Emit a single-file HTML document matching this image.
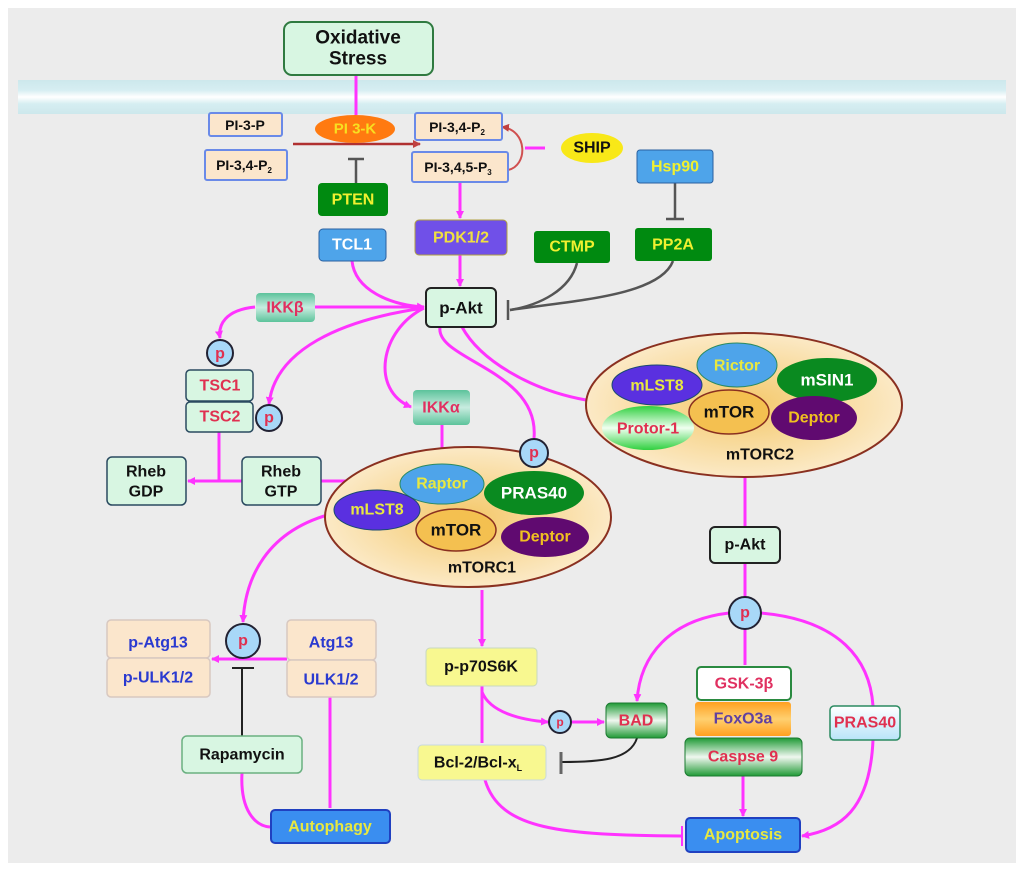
<!DOCTYPE html>
<html><head><meta charset="utf-8"><style>
html,body{margin:0;padding:0;background:#fff}
svg{display:block}
text{font-family:"Liberation Sans",Arial,sans-serif;font-weight:bold;text-anchor:middle;dominant-baseline:central}
</style></head><body>
<svg width="1024" height="872" viewBox="0 0 1024 872" xmlns="http://www.w3.org/2000/svg">
<defs>
<linearGradient id="mem" x1="0" y1="0" x2="0" y2="1">
<stop offset="0" stop-color="#cde8ec"/><stop offset="0.3" stop-color="#d6eef2"/><stop offset="0.5" stop-color="#ffffff"/><stop offset="0.7" stop-color="#d6eef2"/><stop offset="1" stop-color="#cde8ec"/></linearGradient>
<radialGradient id="cplx" cx="0.5" cy="0.5" r="0.6"><stop offset="0" stop-color="#f4c86a"/><stop offset="1" stop-color="#fdf0d8"/></radialGradient>
<linearGradient id="grn" x1="0" y1="0" x2="0" y2="1"><stop offset="0" stop-color="#1f9a35"/><stop offset="0.5" stop-color="#f0f7f0"/><stop offset="1" stop-color="#1f9a35"/></linearGradient>
<linearGradient id="teal" x1="0" y1="0" x2="0" y2="1"><stop offset="0" stop-color="#5cc39b"/><stop offset="0.5" stop-color="#c8ece0"/><stop offset="1" stop-color="#5cc39b"/></linearGradient>
<linearGradient id="org" x1="0" y1="0" x2="0" y2="1"><stop offset="0" stop-color="#ffa020"/><stop offset="0.5" stop-color="#ffd070"/><stop offset="1" stop-color="#ffa020"/></linearGradient>
<linearGradient id="prot" x1="0" y1="0" x2="0" y2="1"><stop offset="0" stop-color="#30d040"/><stop offset="0.5" stop-color="#f0fff0"/><stop offset="1" stop-color="#30d040"/></linearGradient>
<linearGradient id="cyan" x1="0" y1="0" x2="0" y2="1"><stop offset="0" stop-color="#ffffff"/><stop offset="1" stop-color="#b8e4f8"/></linearGradient>
<marker id="am" markerWidth="8" markerHeight="8" refX="7" refY="4" orient="auto" markerUnits="userSpaceOnUse"><path d="M0,0 L8,4 L0,8 z" fill="#ff33ff"/></marker>
<marker id="ar" markerWidth="8" markerHeight="8" refX="7" refY="4" orient="auto" markerUnits="userSpaceOnUse"><path d="M0,0 L8,4 L0,8 z" fill="#c04040"/></marker>
</defs>
<rect x="8" y="8" width="1008" height="855" fill="#ececec"/>
<rect x="18" y="80" width="988" height="34" fill="url(#mem)"/>

<g fill="none" stroke="#ff33ff" stroke-width="3">
<line x1="356" y1="75" x2="356" y2="115"/>
<line x1="460" y1="182" x2="460" y2="218" marker-end="url(#am)"/>
<line x1="460" y1="255" x2="460" y2="286" marker-end="url(#am)"/>
<path d="M352,261 C355,290 390,305 424,307" marker-end="url(#am)"/>
<line x1="315" y1="307" x2="424" y2="307"/>
<path d="M255,307 C225,310 218,325 220,338" marker-end="url(#am)"/>
<path d="M424,308 C340,320 275,350 269,404" marker-end="url(#am)"/>
<path d="M424,308 C380,330 370,390 411,407" marker-end="url(#am)"/>
<path d="M440,327 C435,360 540,370 534,438" />
<path d="M462,327 C480,360 530,390 586,400"/>
<line x1="442" y1="425" x2="442" y2="462" marker-end="url(#am)"/>
<line x1="219" y1="432" x2="219" y2="481"/>
<line x1="242" y1="481" x2="188" y2="481" marker-end="url(#am)"/>
<line x1="321" y1="481" x2="398" y2="481" marker-end="url(#am)"/>
<path d="M335,513 C265,530 245,580 243,622" marker-end="url(#am)"/>
<line x1="287" y1="659" x2="212" y2="659" marker-end="url(#am)"/>
<line x1="330" y1="697" x2="330" y2="808"/>
<path d="M242,773 C240,810 255,826 270,827"/>
<line x1="482" y1="590" x2="482" y2="646" marker-end="url(#am)"/>
<line x1="482" y1="686" x2="482" y2="743"/>
<path d="M482,692 C490,712 520,720 548,722" marker-end="url(#am)"/>
<line x1="572" y1="722" x2="604" y2="722" marker-end="url(#am)"/>
<path d="M485,780 C500,830 560,835 682,836"/>
<line x1="745" y1="478" x2="745" y2="526"/>
<line x1="745" y1="563" x2="745" y2="597"/>
<line x1="745" y1="629" x2="745" y2="665"/>
<path d="M729,613 C670,620 640,655 637,701" marker-end="url(#am)"/>
<path d="M761,613 C840,620 870,660 873,706"/>
<path d="M873,740 C870,810 840,830 802,836" marker-end="url(#am)"/>
<line x1="743" y1="776" x2="743" y2="816" marker-end="url(#am)"/>
<line x1="545" y1="148" x2="525" y2="148"/>
</g>
<g fill="none" stroke="#ff33ff" stroke-width="2"><line x1="682" y1="826" x2="682" y2="846"/></g>
<line x1="293" y1="144" x2="420" y2="144" stroke="#b03030" stroke-width="2.5" marker-end="url(#ar)"/>
<path d="M508,170 C528,166 528,130 502,127" fill="none" stroke="#d05050" stroke-width="2" marker-end="url(#ar)"/>
<g fill="none" stroke="#555" stroke-width="2.5">
<line x1="356" y1="183" x2="356" y2="160"/><line x1="348" y1="159" x2="364" y2="159"/>
<line x1="675" y1="183" x2="675" y2="218"/><line x1="666" y1="219" x2="684" y2="219"/>
<path d="M577,263 C570,290 540,305 510,310"/>
<path d="M673,261 C660,295 580,300 510,310"/>
<line x1="508" y1="300" x2="508" y2="320"/>
</g>
<g fill="none" stroke="#222" stroke-width="2">
<line x1="242" y1="736" x2="242" y2="668"/><line x1="232" y1="668" x2="254" y2="668"/>
<path d="M637,738 C630,760 600,762 562,762"/><line x1="561" y1="752" x2="561" y2="774" stroke="#666" stroke-width="3"/>
</g>

<rect x="284" y="22" width="149" height="53" rx="8" fill="#d8f6e2" stroke="#2f7a40" stroke-width="2"/>
<text x="358" y="38" font-size="19" fill="#111">Oxidative</text><text x="358" y="59" font-size="19" fill="#111">Stress</text>

<g stroke="#6a8ae8" stroke-width="2" fill="#fbe6cc">
<rect x="209" y="113" width="73" height="23" rx="2"/>
<rect x="205" y="150" width="82" height="30" rx="2"/>
<rect x="415" y="113" width="87" height="27" rx="2"/>
<rect x="412" y="152" width="96" height="30" rx="2"/>
</g>
<text x="245" y="125" font-size="14" fill="#111">PI-3-P</text>
<text x="244" y="165" font-size="14" fill="#111">PI-3,4-P<tspan font-size="8" dy="5">2</tspan></text>
<text x="457" y="127" font-size="14" fill="#111">PI-3,4-P<tspan font-size="8" dy="5">2</tspan></text>
<text x="458" y="167" font-size="14" fill="#111">PI-3,4,5-P<tspan font-size="8" dy="5">3</tspan></text>

<ellipse cx="355" cy="129" rx="40" ry="14" fill="#ff7a10"/>
<text x="355" y="129" font-size="15" fill="#f8e020">PI 3-K</text>
<ellipse cx="592" cy="148" rx="31" ry="15" fill="#f8e818"/>
<text x="592" y="148" font-size="16" fill="#111">SHIP</text>

<rect x="318" y="183" width="70" height="33" rx="4" fill="#008a10"/><text x="353" y="200" font-size="16" fill="#f0f030">PTEN</text>
<rect x="319" y="229" width="67" height="32" rx="4" fill="#4ea4ea" stroke="#2a60a0"/><text x="352" y="245" font-size="16" fill="#fff">TCL1</text>
<rect x="415" y="220" width="92" height="35" rx="4" fill="#7050e8" stroke="#b0a040"/><text x="461" y="238" font-size="16" fill="#f0e040">PDK1/2</text>
<rect x="534" y="231" width="76" height="32" rx="3" fill="#008a10"/><text x="572" y="247" font-size="16" fill="#f0f030">CTMP</text>
<rect x="635" y="228" width="77" height="33" rx="3" fill="#008a10"/><text x="673" y="245" font-size="16" fill="#f0f030">PP2A</text>
<rect x="637" y="150" width="76" height="33" rx="3" fill="#4ea4ea" stroke="#2a60a0"/><text x="675" y="167" font-size="16" fill="#f0f030">Hsp90</text>

<rect x="426" y="288" width="70" height="39" rx="5" fill="#d8f6e2" stroke="#222" stroke-width="2"/><text x="461" y="308" font-size="17" fill="#111">p-Akt</text>

<rect x="256" y="293" width="59" height="29" rx="4" fill="url(#teal)"/><text x="285" y="308" font-size="16" fill="#e03060">IKKβ</text>
<rect x="413" y="390" width="57" height="35" rx="4" fill="url(#teal)"/><text x="441" y="408" font-size="16" fill="#e03060">IKKα</text>

<rect x="186" y="370" width="67" height="31" rx="4" fill="#d8f6e2" stroke="#2a4a60" stroke-width="1.5"/><text x="220" y="386" font-size="16" fill="#e03050">TSC1</text>
<rect x="186" y="402" width="67" height="30" rx="4" fill="#d8f6e2" stroke="#2a4a60" stroke-width="1.5"/><text x="220" y="417" font-size="16" fill="#e03050">TSC2</text>

<rect x="107" y="457" width="79" height="48" rx="5" fill="#d8f6e2" stroke="#2a4a60" stroke-width="1.5"/>
<text x="146" y="472" font-size="16" fill="#111">Rheb</text><text x="146" y="492" font-size="16" fill="#111">GDP</text>
<rect x="242" y="457" width="79" height="48" rx="5" fill="#d8f6e2" stroke="#2a4a60" stroke-width="1.5"/>
<text x="281" y="472" font-size="16" fill="#111">Rheb</text><text x="281" y="492" font-size="16" fill="#111">GTP</text>

<ellipse cx="468" cy="517" rx="143" ry="70" fill="url(#cplx)" stroke="#8a3020" stroke-width="2"/>
<ellipse cx="442" cy="484" rx="42" ry="20" fill="#4ea4ea" stroke="#2a8a60"/><text x="442" y="484" font-size="16" fill="#e8e840">Raptor</text>
<ellipse cx="534" cy="493" rx="50" ry="22" fill="#0a8a20"/><text x="534" y="493" font-size="17" fill="#fff">PRAS40</text>
<ellipse cx="377" cy="510" rx="43" ry="20" fill="#5a30e0" stroke="#1a4a70"/><text x="377" y="510" font-size="16" fill="#e8e840">mLST8</text>
<ellipse cx="456" cy="530" rx="40" ry="21" fill="#f4c050" stroke="#8a3020" stroke-width="1.5"/><text x="456" y="530" font-size="17" fill="#111">mTOR</text>
<ellipse cx="545" cy="537" rx="44" ry="20" fill="#600a70"/><text x="545" y="537" font-size="16" fill="#f0c020">Deptor</text>
<text x="482" y="568" font-size="16" fill="#111">mTORC1</text>

<ellipse cx="744" cy="405" rx="158" ry="72" fill="url(#cplx)" stroke="#8a3020" stroke-width="2"/>
<ellipse cx="737" cy="365" rx="40" ry="22" fill="#4ea4ea" stroke="#2a8a60"/><text x="737" y="366" font-size="16" fill="#e8e840">Rictor</text>
<ellipse cx="657" cy="385" rx="45" ry="20" fill="#5a30e0" stroke="#1a4a70"/><text x="657" y="386" font-size="16" fill="#e8e840">mLST8</text>
<ellipse cx="827" cy="380" rx="50" ry="22" fill="#0a8a20"/><text x="827" y="380" font-size="17" fill="#fff">mSIN1</text>
<ellipse cx="648" cy="428" rx="46" ry="22" fill="url(#prot)"/><text x="648" y="429" font-size="16" fill="#e03050">Protor-1</text>
<ellipse cx="729" cy="412" rx="40" ry="22" fill="#f4c050" stroke="#8a3020" stroke-width="1.5"/><text x="729" y="412" font-size="17" fill="#111">mTOR</text>
<ellipse cx="814" cy="418" rx="43" ry="22" fill="#600a70"/><text x="814" y="418" font-size="16" fill="#f0c020">Deptor</text>
<text x="760" y="455" font-size="16" fill="#111">mTORC2</text>

<rect x="710" y="527" width="70" height="36" rx="5" fill="#d8f6e2" stroke="#222" stroke-width="2"/><text x="745" y="545" font-size="16" fill="#111">p-Akt</text>

<rect x="697" y="667" width="94" height="33" rx="4" fill="#fff" stroke="#2a8a40" stroke-width="2"/><text x="744" y="684" font-size="16" fill="#e03060">GSK-3β</text>
<rect x="695" y="702" width="96" height="34" rx="3" fill="url(#org)"/><text x="743" y="719" font-size="16" fill="#6040a0">FoxO3a</text>
<rect x="685" y="738" width="117" height="38" rx="5" fill="url(#grn)" stroke="#1a7a30"/><text x="743" y="757" font-size="16" fill="#e03050">Caspse 9</text>
<rect x="606" y="703" width="61" height="35" rx="5" fill="url(#grn)" stroke="#1a7a30"/><text x="636" y="721" font-size="16" fill="#e03050">BAD</text>
<rect x="830" y="706" width="70" height="34" rx="4" fill="url(#cyan)" stroke="#2a8a60" stroke-width="1.5"/><text x="865" y="723" font-size="16" fill="#e03050">PRAS40</text>
<rect x="686" y="818" width="114" height="34" rx="4" fill="#3a8ef0" stroke="#2040c0" stroke-width="2"/><text x="743" y="835" font-size="16" fill="#e8e840">Apoptosis</text>

<rect x="426" y="648" width="111" height="38" rx="4" fill="#f8f890" stroke="#c8d8c0"/><text x="481" y="667" font-size="16" fill="#111">p-p70S6K</text>
<rect x="418" y="745" width="128" height="35" rx="4" fill="#f8f890" stroke="#c8d8e0"/><text x="478" y="763" font-size="16" fill="#111">Bcl-2/Bcl-x<tspan font-size="9" dy="5">L</tspan></text>

<g stroke="#d8c8c0" stroke-width="1.5" fill="#fbe6cc">
<rect x="107" y="620" width="103" height="38" rx="4"/><rect x="107" y="658" width="103" height="39" rx="4"/>
<rect x="287" y="620" width="89" height="40" rx="4"/><rect x="287" y="660" width="89" height="37" rx="4"/>
</g>
<text x="158" y="643" font-size="16" fill="#2a3ad0">p-Atg13</text>
<text x="158" y="678" font-size="16" fill="#2a3ad0">p-ULK1/2</text>
<text x="331" y="643" font-size="16" fill="#2a3ad0">Atg13</text>
<text x="331" y="680" font-size="16" fill="#2a3ad0">ULK1/2</text>

<rect x="182" y="736" width="120" height="37" rx="5" fill="#d8f6e2" stroke="#6ab080" stroke-width="1.5"/><text x="242" y="755" font-size="16" fill="#111">Rapamycin</text>
<rect x="271" y="810" width="119" height="33" rx="4" fill="#3a8ef0" stroke="#2040c0" stroke-width="2"/><text x="330" y="827" font-size="16" fill="#e8e840">Autophagy</text>

<g fill="#a8d8f8" stroke="#223" stroke-width="2">
<circle cx="220" cy="353" r="13"/><circle cx="269" cy="418" r="13"/><circle cx="534" cy="453" r="14"/>
<circle cx="243" cy="641" r="17"/><circle cx="745" cy="613" r="16"/><circle cx="560" cy="722" r="11"/>
</g>
<g fill="#e03050" font-size="16">
<text x="220" y="354">p</text><text x="269" y="418">p</text><text x="534" y="453">p</text>
<text x="243" y="641">p</text><text x="745" y="613">p</text><text x="560" y="722" font-size="12">p</text>
</g>
</svg>
</body></html>
